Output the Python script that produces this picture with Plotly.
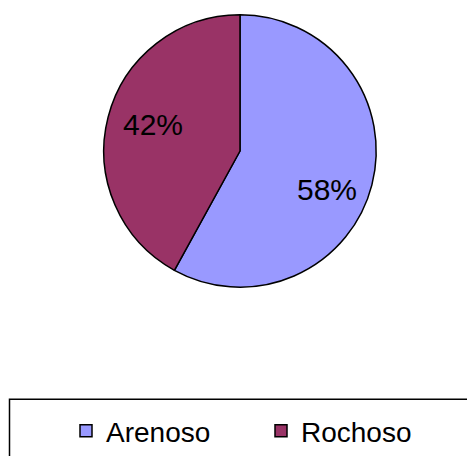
import math
import plotly.graph_objects as go

# Tipo de costa e a respetiva proporção
categorias = ["Arenoso", "Rochoso"]
valores = [58, 42]
cores = ["#9999FF", "#993366"]

W, H = 467, 456
CX, CY, R = 240, 153, 137  # centro e raio do gráfico circular (px)

def px_x(x):
    return x / W

def px_y(y):
    return 1 - y / H

fig = go.Figure(
    go.Pie(
        labels=categorias,
        values=valores,
        sort=False,
        direction="clockwise",
        rotation=0,
        marker=dict(colors=cores, line=dict(color="black", width=1.5)),
        textinfo="none",
        domain=dict(x=[px_x(CX - R - 1), px_x(CX + R + 1)],
                    y=[px_y(CY + R + 1), px_y(CY - R - 1)]),
        hoverinfo="label+percent",
    )
)

# Rótulos de percentagem no interior de cada fatia
total = sum(valores)
pos_rotulo = [(0.70, 10.0), (0.66, 2.0)]  # (fração do raio, desvio angular em graus)
acum = 0
for v, (fr, desvio) in zip(valores, pos_rotulo):
    meio = (acum + v / 2) / total * 360 + desvio
    acum += v
    ang = math.radians(meio)
    x = CX + fr * R * math.sin(ang)
    y = CY - 1 - fr * R * math.cos(ang)
    fig.add_annotation(
        x=px_x(x), y=px_y(y), xref="paper", yref="paper",
        text=f"{round(v / total * 100)}%", showarrow=False,
        xanchor="center", yanchor="middle",
        font=dict(family="Liberation Sans, Arial", size=30, color="black"),
    )

# Moldura da legenda
fig.add_shape(
    type="rect", xref="paper", yref="paper",
    x0=px_x(9.5), x1=px_x(480), y0=px_y(480), y1=px_y(404.5),
    line=dict(color="black", width=1.5), fillcolor="rgba(0,0,0,0)",
)

fig.update_layout(
    width=W, height=H,
    margin=dict(l=0, r=0, t=0, b=0),
    paper_bgcolor="white",
    plot_bgcolor="white",
    showlegend=True,
    legend=dict(
        orientation="h",
        x=px_x(66), xanchor="left",
        y=px_y(437), yanchor="middle",
        font=dict(family="Liberation Sans, Arial", size=28, color="black"),
        entrywidth=150,
        bgcolor="rgba(0,0,0,0)",
    ),
)

fig.write_html("out.html")
